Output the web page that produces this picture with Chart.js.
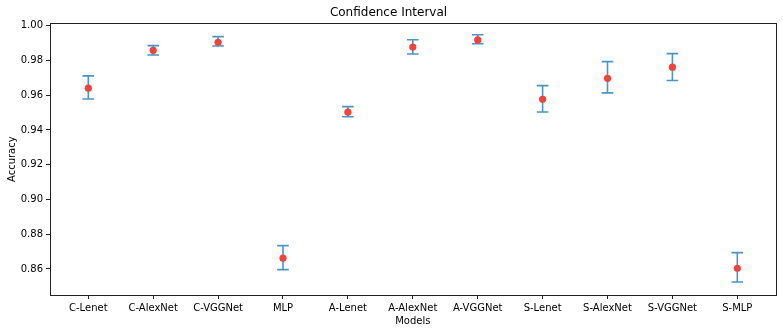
<!DOCTYPE html>
<html>
<head>
<meta charset="utf-8">
<title>Confidence Interval</title>
<script src="https://cdn.jsdelivr.net/npm/chart.js@4/dist/chart.umd.min.js"></script>
<style>
    body { margin: 0; background: #fff; }
    #wrap { width: 783px; height: 333px; }
</style>
</head>
<body>
<div id="wrap"><canvas id="ciChart" width="783" height="333"></canvas></div>
<script>
// Data
const models = ["C-Lenet", "C-AlexNet", "C-VGGNet", "MLP", "A-Lenet", "A-AlexNet", "A-VGGNet", "S-Lenet", "S-AlexNet", "S-VGGNet", "S-MLP"];
const meanAcc = [0.9640, 0.9858, 0.9904, 0.8662, 0.9502, 0.9877, 0.9918, 0.9576, 0.9697, 0.9761, 0.8604];
const lowerAcc = [0.9578, 0.9831, 0.9883, 0.8596, 0.9476, 0.9837, 0.9896, 0.9503, 0.9613, 0.9684, 0.8525];
const upperAcc = [0.9711, 0.9885, 0.9937, 0.8734, 0.9534, 0.9919, 0.9948, 0.9655, 0.9793, 0.9839, 0.8694];
const yTicks = [0.86, 0.88, 0.90, 0.92, 0.94, 0.96, 0.98, 1.00];

const BAR_BLUE = "#4a95c6";
const DOT_RED = "#f2423a";
const FONT = "'DejaVu Sans', sans-serif";

// points for the mean markers
const meanPoints = meanAcc.map((v, i) => ({ x: i, y: v }));

// error bars: lower -> upper, then a gap so each bar is its own segment
const barPoints = [];
lowerAcc.forEach((lo, i) => {
    barPoints.push({ x: i, y: lo });
    barPoints.push({ x: i, y: upperAcc[i] });
    barPoints.push({ x: i, y: null });
});

// box around the plot area (matplotlib spines)
const frame = {
    id: "frame",
    afterDraw(chart) {
        const a = chart.chartArea;
        const ctx = chart.ctx;
        ctx.save();
        ctx.strokeStyle = "#222";
        ctx.lineWidth = 1;
        ctx.strokeRect(Math.round(a.left) + 0.5, Math.round(a.top) + 0.5, Math.round(a.right - a.left), Math.round(a.bottom - a.top));
        ctx.restore();
    }
};

const ctx = document.getElementById("ciChart").getContext("2d");
new Chart(ctx, {
    type: "scatter",
    data: {
        datasets: [
            {
                label: "mean",
                data: meanPoints,
                pointRadius: 3.6,
                pointBackgroundColor: DOT_RED,
                pointBorderWidth: 0,
                showLine: false
            },
            {
                label: "ci",
                data: barPoints,
                showLine: true,
                spanGaps: false,
                borderColor: BAR_BLUE,
                borderWidth: 1.6,
                pointStyle: "line",
                pointRadius: 5.8,
                pointBorderWidth: 1.6,
                pointBorderColor: BAR_BLUE,
                pointBackgroundColor: BAR_BLUE
            }
        ]
    },
    options: {
        responsive: false,
        animation: false,
        events: [],
        layout: { padding: { left: 0, right: 6, top: 0, bottom: 0 } },
        plugins: {
            legend: { display: false },
            tooltip: { enabled: false },
            title: {
                display: true,
                text: "Confidence Interval",
                color: "#000",
                font: { family: FONT, size: 12, weight: "normal" },
                padding: { top: 6, bottom: 3 }
            }
        },
        scales: {
            x: {
                type: "linear",
                min: -0.59,
                max: models.length - 1 + 0.59,
                afterBuildTicks: (scale) => { scale.ticks = models.map((m, i) => ({ value: i })); },
                afterFit: (scale) => { scale.height = 38; },
                ticks: {
                    callback: (v) => models[v],
                    color: "#000",
                    font: { family: FONT, size: 10 },
                    padding: 3,
                    maxRotation: 0,
                    autoSkip: false
                },
                grid: { drawOnChartArea: false, drawTicks: true, tickLength: 4, color: "#222" },
                border: { display: false },
                title: {
                    display: true,
                    text: "Models",
                    color: "#000",
                    font: { family: FONT, size: 10 },
                    padding: { top: 0, bottom: 6 }
                }
            },
            y: {
                min: 0.845,
                max: 1.0013,
                afterBuildTicks: (scale) => { scale.ticks = yTicks.map(v => ({ value: v })); },
                afterFit: (scale) => { scale.width = 50; },
                ticks: {
                    callback: (v) => v.toFixed(2),
                    color: "#000",
                    font: { family: FONT, size: 10 },
                    padding: 3
                },
                grid: { drawOnChartArea: false, drawTicks: true, tickLength: 4, color: "#222" },
                border: { display: false },
                title: {
                    display: true,
                    text: "Accuracy",
                    color: "#000",
                    font: { family: FONT, size: 10 },
                    padding: { top: 6, bottom: 0 }
                }
            }
        }
    },
    plugins: [frame]
});
</script>
</body>
</html>
